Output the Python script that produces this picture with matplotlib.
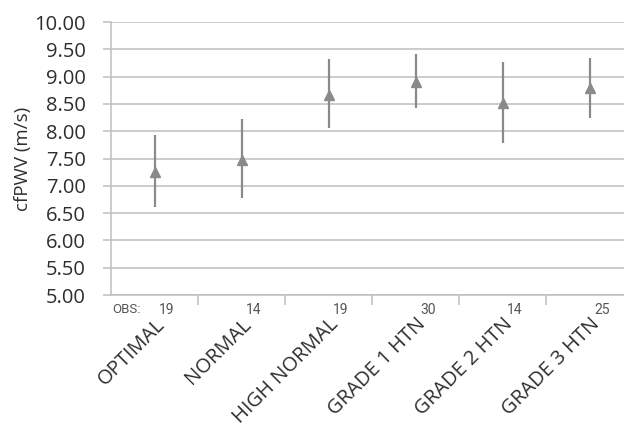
import numpy as np
import matplotlib.pyplot as plt
import matplotlib.transforms as mtransforms
from matplotlib.transforms import blended_transform_factory

categories = ['OPTIMAL', 'NORMAL', 'HIGH NORMAL', 'GRADE 1 HTN', 'GRADE 2 HTN', 'GRADE 3 HTN']
means      = [7.25, 7.47, 8.66, 8.90, 8.52, 8.79]
upper      = [7.93, 8.22, 9.32, 9.41, 9.27, 9.34]
lower      = [6.61, 6.78, 8.06, 8.43, 7.78, 8.24]
obs        = [19, 14, 19, 30, 14, 25]
yticks     = np.arange(5.0, 10.01, 0.5)

GRID  = '#bfbfbf'
MARK  = '#8a8a8a'
TEXT  = '#2e2e2e'
plt.rcParams['font.family'] = ['Open Sans', 'DejaVu Sans']
NARROW = ['Liberation Sans Narrow', 'Roboto', 'DejaVu Sans']

fig = plt.figure(figsize=(6.24, 4.32), dpi=100)
ax = fig.add_axes([0.178, 0.317, 0.837, 0.632])

x = np.arange(len(categories))
means = np.array(means)
yerr = [means - np.array(lower), np.array(upper) - means]
ax.errorbar(x, means, yerr=yerr, fmt='^', color=MARK, ecolor=MARK,
            elinewidth=1.6, capsize=0, markersize=7, zorder=3)

ax.set_xlim(-0.5, len(categories) - 0.5)
ax.set_ylim(5.0, 10.0)
ax.set_yticks(yticks)
ax.set_yticklabels([f'{v:.2f}' for v in yticks], fontsize=14.5, color=TEXT)
ax.yaxis.grid(True, color=GRID, linewidth=1.1)
ax.set_axisbelow(True)
ax.tick_params(axis='y', length=6, width=1.1, color=GRID, pad=12)

ax.set_xticks(x)
ax.set_xticklabels(categories, rotation=45, ha='right', rotation_mode='anchor',
                   fontsize=14.5, color=TEXT)
shift = mtransforms.ScaledTranslation(-4 / 100, 0, fig.dpi_scale_trans)
for lbl in ax.get_xticklabels():
    lbl.set_transform(lbl.get_transform() + shift)
ax.set_xticks(np.arange(0.5, len(categories) - 0.5, 1.0), minor=True)
ax.tick_params(axis='x', which='major', length=0, pad=14)
ax.tick_params(axis='x', which='minor', length=7, width=1.1, color=GRID)

for side in ['top', 'right']:
    ax.spines[side].set_visible(False)
for side in ['left', 'bottom']:
    ax.spines[side].set_color(GRID)
    ax.spines[side].set_linewidth(1.1)

ax.set_ylabel('cfPWV (m/s)', fontsize=13.5, color=TEXT, labelpad=2)

# observation counts row under the axis
trans = blended_transform_factory(ax.transData, ax.transAxes)
ax.text(-0.49, -0.03, 'OBS:', transform=trans, fontsize=9.5, color='#555555',
        ha='left', va='top', family=NARROW)
for xi, n in zip(x, obs):
    ax.text(xi + 0.14, -0.03, str(n), transform=trans, fontsize=10, color='#555555',
            ha='center', va='top', family=NARROW)

fig.savefig('out.png', dpi=100)
